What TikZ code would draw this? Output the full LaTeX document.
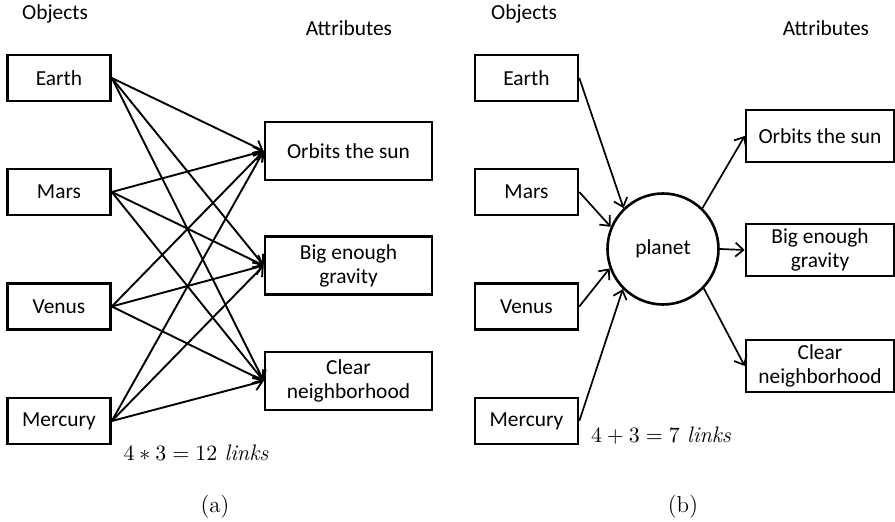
\documentclass[tikz,border=0pt]{standalone}
\usepackage{fontspec}
\newfontfamily\labelfont{Carlito}
\usetikzlibrary{arrows.meta}
\begin{document}
\begin{tikzpicture}[x=0.5pt,y=-0.5pt,
  box/.style={draw, line width=1.3pt, inner sep=0pt, align=center,
    font=\labelfont\fontsize{10.7}{12}\selectfont},
  obj/.style={box, minimum width=51.5pt, minimum height=23pt},
  attrA/.style={box, minimum width=83.5pt, minimum height=29pt},
  attrB/.style={box, minimum width=74pt, minimum height=26pt},
  link/.style={-{Straight Barb[length=4pt,width=7pt]}, line width=0.95pt},
  linkb/.style={-{Straight Barb[length=4pt,width=7pt]}, line width=0.85pt},
  heading/.style={font=\labelfont\fontsize{10.7}{12}\selectfont},
  eq/.style={font=\fontsize{11.2}{13}\selectfont},
  subcap/.style={font=\fontsize{11.5}{13}\selectfont}
]
\useasboundingbox (0,0) rectangle (895,522);

% ---------- (a) every object linked to every attribute ----------
\node[heading] (objA) at (55,14) {Objects};
\node[heading] (attA) at (349,28) {Attributes};

\node[obj] (earth)   at (59,78)    {Earth};
\node[obj] (mars)    at (59,192)   {Mars};
\node[obj] (venus)   at (59,306.5) {Venus};
\node[obj] (mercury) at (59,421)   {Mercury};

\node[attrA] (orbits) at (348.5,151) {Orbits the sun};
\node[attrA] (big)    at (348.5,265.5) {Big enough\\gravity};
\node[attrA] (clear)  at (348.5,381) {Clear\\neighborhood};

\foreach \o in {earth,mars,venus,mercury}
  \foreach \a in {orbits,big,clear}
    \draw[link] (\o.east) -- (\a.west);

\node[eq] (countA) at (196,453) {$4*3=12\ \mathit{links}$};
\node[subcap] (capA) at (215,507) {(a)};

% ---------- (b) objects linked through a shared concept ----------
\node[heading] (objB) at (524,14) {Objects};
\node[heading] (attB) at (826,28) {Attributes};

\node[obj] (earthB)   at (526.5,78)    {Earth};
\node[obj] (marsB)    at (526.5,192)   {Mars};
\node[obj] (venusB)   at (526.5,306.5) {Venus};
\node[obj] (mercuryB) at (526.5,421)   {Mercury};

\node[draw, circle, line width=1.3pt, minimum size=55.5pt, inner sep=0pt,
  font=\labelfont\fontsize{10.7}{12}\selectfont] (planet) at (663,249) {planet};

\node[attrB] (orbitsB) at (820,136) {Orbits the sun};
\node[attrB] (bigB)    at (820,250) {Big enough\\gravity};
\node[attrB] (clearB)  at (820,366) {Clear\\neighborhood};

\draw[linkb] (earthB.east)   -- (planet.134);
\draw[linkb] (marsB.east)    -- (planet.157);
\draw[linkb] (venusB.east)   -- (planet.200);
\draw[linkb] (mercuryB.east) -- (planet.225);

\draw[linkb] (planet.46)  -- (orbitsB.west);
\draw[linkb] (planet.0)   -- (bigB.west);
\draw[linkb] (planet.-44) -- (clearB.west);

\node[eq] (countB) at (661,436) {$4+3=7\ \mathit{links}$};
\node[subcap] (capB) at (683,507) {(b)};
\end{tikzpicture}
\end{document}
